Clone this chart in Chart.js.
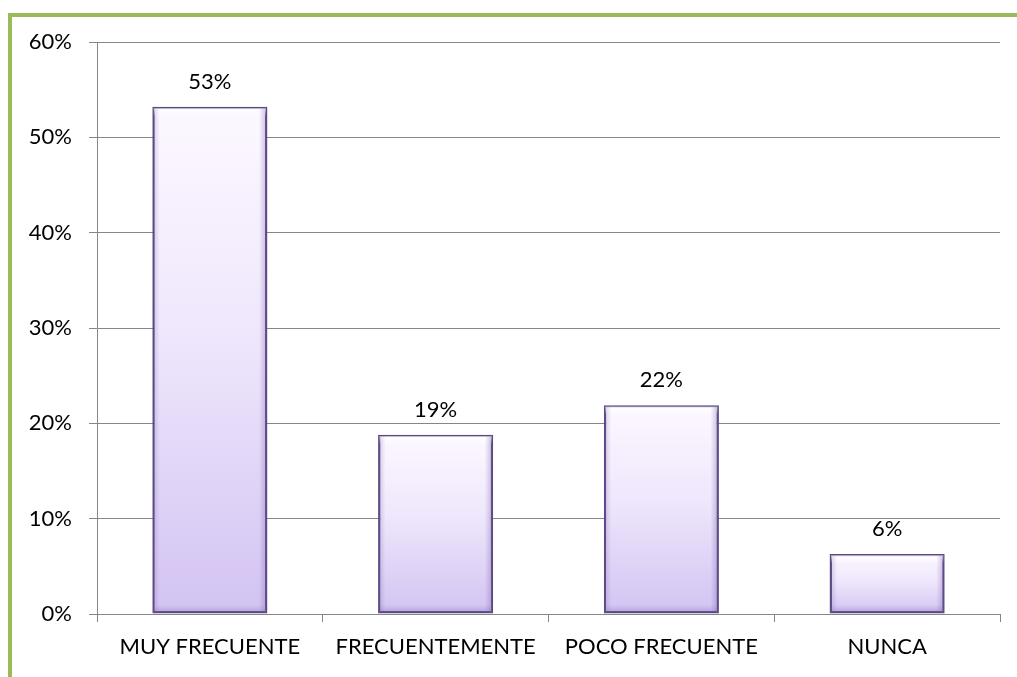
<!DOCTYPE html>
<html>
<head>
<meta charset="utf-8">
<script src="https://cdn.jsdelivr.net/npm/chart.js@4"></script>
<style>
  html, body { margin: 0; padding: 0; background: #fff; }
  #wrap { position: relative; width: 1017px; height: 677px; }
  #frame { position: absolute; left: 8px; top: 13px; right: 0; bottom: 0;
           border-left: 4px solid #9bbb59; border-top: 4px solid #9bbb59; }
  canvas { position: absolute; left: 0; top: 0; }
</style>
</head>
<body>
<div id="wrap">
  <div id="frame"></div>
  <canvas id="graph" width="1017" height="677"></canvas>
</div>
<script>
const categories = ['MUY FRECUENTE', 'FRECUENTEMENTE', 'POCO FRECUENTE', 'NUNCA'];
const values = [53.2, 18.8, 21.9, 6.3];
const yTicks = [0, 10, 20, 30, 40, 50, 60];

graph = document.getElementById('graph');
const font = { family: 'Lato, "Open Sans", sans-serif', size: 22 };

// labels above the bars + a little bevel shading
const valueLabels = {
    id: 'valueLabels',
    afterDatasetsDraw(chart) {
        const ctx = chart.ctx;
        const meta = chart.getDatasetMeta(0);
        ctx.save();
        meta.data.forEach((bar) => {
            const half = bar.width / 2;
            const l = bar.x - half + 1.5, r = bar.x + half - 1.5;
            const t = bar.y + 1.5, b = bar.base - 1.5;
            // top highlight
            let g = ctx.createLinearGradient(0, t, 0, t + 8);
            g.addColorStop(0, 'rgba(255,255,255,0.9)');
            g.addColorStop(1, 'rgba(255,255,255,0)');
            ctx.fillStyle = g;
            ctx.fillRect(l, t, r - l, 8);
            // right shade
            g = ctx.createLinearGradient(r - 7, 0, r, 0);
            g.addColorStop(0, 'rgba(120,95,170,0)');
            g.addColorStop(1, 'rgba(120,95,170,0.35)');
            ctx.fillStyle = g;
            ctx.fillRect(r - 7, t, 7, b - t);
            // left shade
            g = ctx.createLinearGradient(l, 0, l + 6, 0);
            g.addColorStop(0, 'rgba(120,95,170,0.25)');
            g.addColorStop(1, 'rgba(120,95,170,0)');
            ctx.fillStyle = g;
            ctx.fillRect(l, t, 6, b - t);
            // bottom shade
            g = ctx.createLinearGradient(0, b - 7, 0, b);
            g.addColorStop(0, 'rgba(120,95,170,0)');
            g.addColorStop(1, 'rgba(120,95,170,0.3)');
            ctx.fillStyle = g;
            ctx.fillRect(l, b - 7, r - l, 7);
        });
        ctx.font = font.size + 'px ' + font.family;
        ctx.fillStyle = '#000';
        ctx.textAlign = 'center';
        ctx.textBaseline = 'bottom';
        meta.data.forEach((bar, i) => {
            ctx.fillText(Math.round(values[i]) + '%', bar.x, bar.y - 14);
        });
        ctx.restore();
    }
};

new Chart(graph, {
    type: 'bar',
    data: {
        labels: categories,
        datasets: [{
            data: values,
            backgroundColor: function(context) {
                const chart = context.chart;
                const ys = chart.scales.y;
                if (!chart.chartArea || !ys) return '#e8dff8';
                const top = ys.getPixelForValue(context.raw);
                const base = ys.getPixelForValue(0);
                const g = chart.ctx.createLinearGradient(0, top, 0, base);
                g.addColorStop(0, '#fcf8ff');
                g.addColorStop(0.45, '#efe7fc');
                g.addColorStop(1, '#d2c3f2');
                return g;
            },
            borderColor: '#5c4a85',
            borderWidth: 2.5,
            borderSkipped: false,
            categoryPercentage: 1,
            barPercentage: 0.51
        }]
    },
    options: {
        responsive: false,
        animation: false,
        layout: { padding: { top: 42, right: 17, left: 0, bottom: 0 } },
        plugins: { legend: { display: false }, tooltip: { enabled: false } },
        scales: {
            x: {
                offset: true,
                grid: { offset: true, drawOnChartArea: false, color: '#868686', tickLength: 8 },
                border: { display: false },
                ticks: { color: '#000', font: font, padding: 12 },
                afterFit(scale) { scale.height = 63; }
            },
            y: {
                min: 0,
                max: 60,
                afterBuildTicks(scale) { scale.ticks = yTicks.map(v => ({ value: v })); },
                grid: { color: '#868686', lineWidth: 1, tickLength: 8 },
                border: { color: '#868686' },
                ticks: { color: '#000', font: font, padding: 17, callback: v => v + '%' },
                afterFit(scale) { scale.width = 97; }
            }
        }
    },
    plugins: [valueLabels]
});
</script>
</body>
</html>
